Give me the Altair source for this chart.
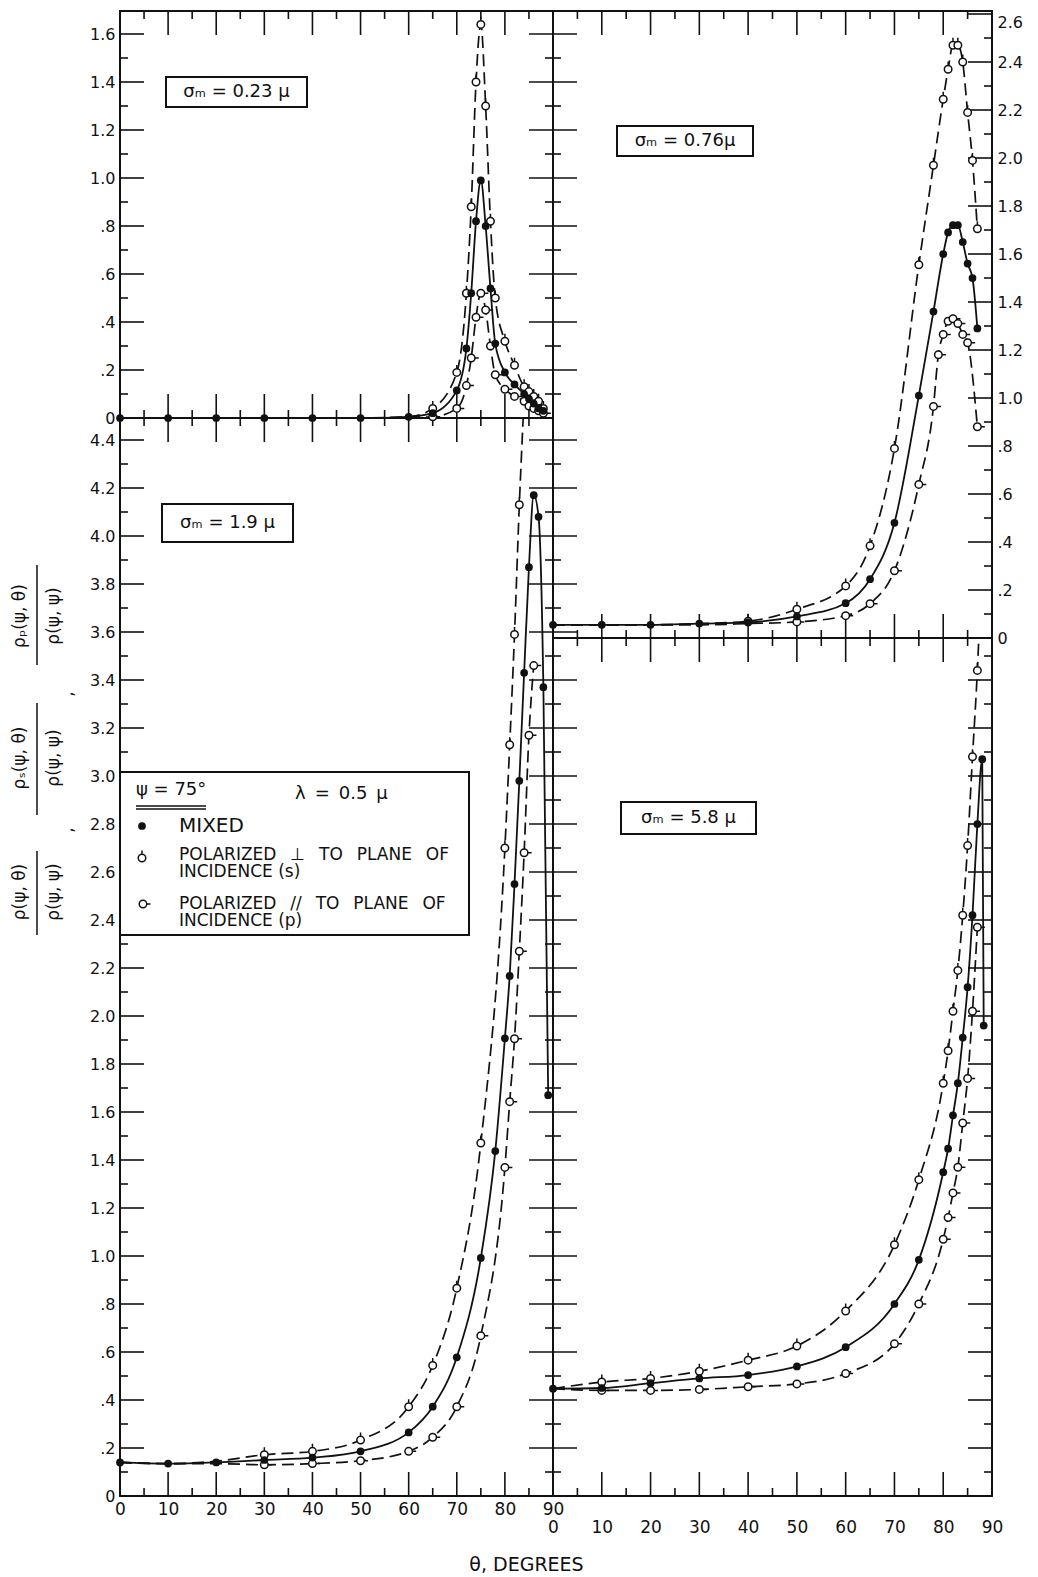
import altair as alt
import pandas as pd

FONT = "DejaVu Sans"
INK = "#111111"
GAP = " \u2002"   # wide word gap (plain spaces collapse in SVG)

# ---------------- values (theta in degrees) ----------------
# sigma_m = 0.23 mu  (top left)
TL_DEG = [0, 10, 20, 30, 40, 50, 60, 65, 70, 72, 73, 74, 75, 76, 77, 78, 80, 82, 84, 85, 86, 87, 88]
TL_MIXED = [0, 0, 0, 0, 0, 0, 0.005, 0.02, 0.115, 0.29, 0.52, 0.82, 0.99, 0.80, 0.54, 0.31, 0.19, 0.14, 0.10, 0.08, 0.06, 0.04, 0.03]
TL_S = [0, 0, 0, 0, 0, 0, 0.005, 0.04, 0.19, 0.52, 0.88, 1.40, 1.64, 1.30, 0.82, 0.50, 0.32, 0.22, 0.13, 0.11, 0.09, 0.07, 0.04]
TL_P = [0, 0, 0, 0, 0, 0, 0.003, 0.005, 0.04, 0.135, 0.25, 0.42, 0.52, 0.45, 0.30, 0.18, 0.12, 0.09, 0.07, 0.05, 0.04, 0.03, 0.02]

# sigma_m = 0.76 mu  (top right)
TR_DEG = [0, 10, 20, 30, 40, 50, 60, 65, 70, 75, 78, 80, 81, 82, 83, 84, 85, 86, 87]
TR_MIXED = [0.055, 0.055, 0.055, 0.06, 0.065, 0.09, 0.145, 0.245, 0.48, 1.01, 1.36, 1.60, 1.69, 1.72, 1.72, 1.65, 1.56, 1.50, 1.29]
TR_S = [0.055, 0.055, 0.055, 0.06, 0.07, 0.12, 0.217, 0.384, 0.79, 1.555, 1.97, 2.245, 2.37, 2.47, 2.47, 2.40, 2.19, 1.99, 1.705]
TR_P_DEG = [0, 10, 20, 30, 40, 50, 60, 65, 70, 75, 78, 79, 80, 81, 82, 83, 84, 85, 87]
TR_P = [0.055, 0.055, 0.055, 0.055, 0.06, 0.067, 0.093, 0.143, 0.28, 0.64, 0.965, 1.18, 1.265, 1.32, 1.33, 1.31, 1.265, 1.23, 0.88]

# sigma_m = 1.9 mu  (bottom left)
BL_M_DEG = [0, 10, 20, 30, 40, 50, 60, 65, 70, 75, 78, 80, 81, 82, 83, 84, 85, 86, 87, 88, 89]
BL_MIXED = [0.14, 0.135, 0.14, 0.15, 0.16, 0.186, 0.265, 0.372, 0.578, 0.992, 1.437, 1.907, 2.167, 2.55, 2.98, 3.43, 3.87, 4.17, 4.08, 3.37, 1.67]
BL_S_DEG = [0, 10, 20, 30, 40, 50, 60, 65, 70, 75, 80, 81, 82, 83]
BL_S = [0.14, 0.135, 0.145, 0.172, 0.186, 0.233, 0.372, 0.544, 0.866, 1.471, 2.70, 3.13, 3.59, 4.13]
BL_S_EXIT = (83.8, 4.49)          # where the dashed curve leaves the frame
BL_P_DEG = [0, 10, 20, 30, 40, 50, 60, 65, 70, 75, 80, 81, 82, 83, 84, 85, 86]
BL_P = [0.14, 0.135, 0.135, 0.13, 0.135, 0.147, 0.186, 0.245, 0.372, 0.668, 1.369, 1.643, 1.905, 2.27, 2.68, 3.17, 3.46]

# sigma_m = 5.8 mu  (bottom right)
BR_M_DEG = [0, 10, 20, 30, 40, 50, 60, 70, 75, 80, 81, 82, 83, 84, 85, 86, 87, 88, 88.3]
BR_MIXED = [0.447, 0.45, 0.47, 0.49, 0.504, 0.54, 0.62, 0.80, 0.984, 1.349, 1.447, 1.586, 1.72, 1.91, 2.12, 2.42, 2.80, 3.07, 1.96]
BR_SP_DEG = [0, 10, 20, 30, 40, 50, 60, 70, 75, 80, 81, 82, 83, 84, 85, 86, 87]
BR_S = [0.447, 0.475, 0.49, 0.52, 0.566, 0.625, 0.771, 1.047, 1.318, 1.72, 1.855, 2.02, 2.19, 2.42, 2.71, 3.08, 3.44]
BR_S_EXIT = (87.3, 3.575)
BR_P = [0.447, 0.44, 0.44, 0.444, 0.455, 0.467, 0.51, 0.634, 0.80, 1.07, 1.16, 1.263, 1.37, 1.554, 1.74, 2.02, 2.37]

# axis labels
X_LABELS = list(range(0, 91, 10))
Y_LABELS_TL = [round(0.2 * i, 1) for i in range(0, 9)]     # 0 .. 1.6
Y_LABELS_BL = [round(0.2 * i, 1) for i in range(0, 23)]    # 0 .. 4.4
Y_LABELS_TR = [round(0.2 * i, 1) for i in range(0, 14)]    # 0 .. 2.6

# ---------------- layout ----------------
PXU = 240.0                       # pixels per ordinate unit (same in every panel)
W_L, W_R = 433, 439
H_TL, H_BL, H_TR, H_BR = 407, 1078, 627, 858
H_ALL = H_TL + H_BL               # == H_TR + H_BR

S_SHAPE = "M0.5,0A0.5,0.5,0,1,1,-0.5,0A0.5,0.5,0,1,1,0.5,0ZM0,-0.5L0,-1"
P_SHAPE = "M0.5,0A0.5,0.5,0,1,1,-0.5,0A0.5,0.5,0,1,1,0.5,0ZM0.5,0L1,0"

LBL = ("datum.value == 0 ? '0' : (datum.value < 0.99 ? "
       "replace(format(datum.value, '.1f'), '0.', '.') : format(datum.value, '.1f'))")

BOX_FS = 18


def rows(deg, val, ser, mk_from, exit_pt=None):
    out = [dict(deg=d, val=v, ser=ser, mk=bool(d >= mk_from)) for d, v in zip(deg, val)]
    if exit_pt:
        out.append(dict(deg=exit_pt[0], val=exit_pt[1], ser=ser, mk=False))
    return out


def tick_layers(vals, majors, scale, side, W, y0, H, cross=False, lmaj=24, lmin=8):
    df = pd.DataFrame({"v": vals, "maj": majors})
    out = []
    for flt, L in (("datum.maj", lmaj), ("!datum.maj", lmin)):
        base = alt.Chart(df).transform_filter(flt).mark_rule(color=INK, strokeWidth=1.6)
        ext = L if cross else 0
        if side == "left":
            enc = dict(y=alt.Y("v:Q", scale=scale, axis=None), x=alt.value(0), x2=alt.value(L))
        elif side == "right":
            enc = dict(y=alt.Y("v:Q", scale=scale, axis=None), x=alt.value(W - L), x2=alt.value(W + ext))
        elif side == "top":
            enc = dict(x=alt.X("v:Q", scale=scale, axis=None), y=alt.value(y0), y2=alt.value(y0 + L))
        else:
            enc = dict(x=alt.X("v:Q", scale=scale, axis=None), y=alt.value(y0 + H - L),
                       y2=alt.value(y0 + H + ext))
        out.append(base.encode(**enc))
    return out


def panel(W, y0, H, data, sides, xaxis=None, yaxis=None, box=None, extra=None, baseline=False):
    ymax = H / PXU
    xs = alt.Scale(domain=[0, 90], nice=False, zero=False)
    ys = alt.Scale(domain=[0, ymax], range=[y0 + H, y0], nice=False, zero=False)
    nt = int(round(ymax * 10 - 0.499))
    yv = [round(0.1 * i, 1) for i in range(1, nt + 1)]
    ymaj = [int(round(v * 10)) % 2 == 0 for v in yv]
    xv = list(range(5, 90, 5))
    xmaj = [v % 10 == 0 for v in xv]
    layers = []
    if baseline:
        layers.append(alt.Chart(pd.DataFrame({"a": [0]})).mark_rule(color=INK, strokeWidth=2).encode(
            x=alt.value(0), x2=alt.value(W), y=alt.value(y0 + H)))
    for side, cross in sides:
        if side in ("left", "right"):
            layers += tick_layers(yv, ymaj, ys, side, W, y0, H, cross)
        else:
            layers += tick_layers(xv, xmaj, xs, side, W, y0, H, cross)

    df = pd.DataFrame(data)
    X = lambda ax=None: alt.X("deg:Q", scale=xs, axis=ax)
    Y = lambda ax=None: alt.Y("val:Q", scale=ys, axis=ax)
    layers.append(
        alt.Chart(df).transform_filter("datum.ser != 'mixed'")
        .mark_line(color=INK, strokeWidth=1.7, strokeDash=[12, 6], interpolate="monotone", clip=True)
        .encode(x=X(), y=Y(), detail="ser:N"))
    layers.append(
        alt.Chart(df).transform_filter("datum.ser == 'mixed'")
        .mark_line(color=INK, strokeWidth=1.8, interpolate="monotone", clip=True)
        .encode(x=X(xaxis), y=Y(yaxis)))
    for ser, shp in (("s", S_SHAPE), ("p", P_SHAPE)):
        layers.append(
            alt.Chart(df).transform_filter(f"datum.ser == '{ser}' && datum.mk")
            .mark_point(shape=shp, size=225, filled=True, fill="white", stroke=INK,
                        strokeWidth=1.5, opacity=1)
            .encode(x=X(), y=Y()))
    layers.append(
        alt.Chart(df).transform_filter("datum.ser == 'mixed' && datum.mk")
        .mark_point(shape="circle", size=60, filled=True, color=INK, opacity=1)
        .encode(x=X(), y=Y()))

    if box is not None:
        (px1, py1, px2, py2, label) = box
        k = 90.0 / W
        bdf = pd.DataFrame([dict(x1=px1 * k, x2=px2 * k, y1=ymax - py1 / PXU, y2=ymax - py2 / PXU,
                                 xc=(px1 + px2) / 2 * k, yc=ymax - (py1 + py2) / 2 / PXU, t=label)])
        layers.append(alt.Chart(bdf).mark_rect(fill="white", stroke=INK, strokeWidth=2).encode(
            x=alt.X("x1:Q", scale=xs, axis=None), x2="x2:Q",
            y=alt.Y("y1:Q", scale=ys, axis=None), y2="y2:Q"))
        layers.append(alt.Chart(bdf).mark_text(font=FONT, fontSize=BOX_FS, color=INK, align="center",
                                               baseline="middle").encode(
            x=alt.X("xc:Q", scale=xs, axis=None), y=alt.Y("yc:Q", scale=ys, axis=None), text="t:N"))
    if extra is not None:
        layers += extra(xs, ys, W, ymax)
    return alt.layer(*layers).resolve_axis(x="independent", y="independent")


def yaxis(orient, values, top_value=None):
    kw = {}
    if top_value is not None:
        kw["labelBaseline"] = {"condition": {"test": f"datum.value >= {top_value}", "value": "top"},
                               "value": "middle"}
    return alt.Axis(orient=orient, values=values, labelExpr=LBL, ticks=False, domain=False, grid=False,
                    labelPadding=5, labelFont=FONT, labelFontSize=16, labelColor=INK, labelOverlap=False,
                    labelFlush=False, title=None, **kw)


def xaxis(pad, title=None, **kw):
    return alt.Axis(orient="bottom", values=X_LABELS, format="d", ticks=False, domain=False, grid=False,
                    labelPadding=pad, labelFont=FONT, labelFontSize=17, labelColor=INK, labelOverlap=False,
                    labelFlush=False, title=title, **kw)


def bl_extra(xs, ys, W, ymax):
    k = 90.0 / W
    cx = lambda px: px * k
    cy = lambda py: ymax - py / PXU
    out = []
    # legend box
    lb = pd.DataFrame([dict(x1=cx(0), x2=cx(349), y1=cy(354), y2=cy(517))])
    out.append(alt.Chart(lb).mark_rect(fill="white", stroke=INK, strokeWidth=2).encode(
        x=alt.X("x1:Q", scale=xs, axis=None), x2="x2:Q", y=alt.Y("y1:Q", scale=ys, axis=None), y2="y2:Q"))
    items = [("ψ = 75°", 16, 372, 18), ("λ\u2002=\u20020.5\u2002μ", 175, 376, 18), ("MIXED", 59, 408, 20),
             (GAP.join(["POLARIZED", "⊥", "TO", "PLANE", "OF"]), 59, 437, 17), ("INCIDENCE (s)", 59, 454, 17),
             (GAP.join(["POLARIZED", "//", "TO", "PLANE", "OF"]), 59, 486, 17), ("INCIDENCE (p)", 59, 503, 17)]
    tdf = pd.DataFrame([dict(t=t, x=cx(px), y=cy(py), fs=fs) for t, px, py, fs in items])
    out.append(alt.Chart(tdf).mark_text(font=FONT, color=INK, align="left", baseline="middle").encode(
        x=alt.X("x:Q", scale=xs, axis=None), y=alt.Y("y:Q", scale=ys, axis=None), text="t:N",
        size=alt.Size("fs:Q", scale=None, legend=None)))
    udf = pd.DataFrame([dict(x1=cx(16), x2=cx(86), y=cy(388)), dict(x1=cx(16), x2=cx(86), y=cy(391))])
    out.append(alt.Chart(udf).mark_rule(color=INK, strokeWidth=1.4).encode(
        x=alt.X("x1:Q", scale=xs, axis=None), x2="x2:Q", y=alt.Y("y:Q", scale=ys, axis=None)))
    mdf = pd.DataFrame([dict(x=cx(22), y=cy(408))])
    out.append(alt.Chart(mdf).mark_point(shape="circle", size=60, filled=True, color=INK, opacity=1).encode(
        x=alt.X("x:Q", scale=xs, axis=None), y=alt.Y("y:Q", scale=ys, axis=None)))
    for shp, px, py in ((S_SHAPE, 22, 440), (P_SHAPE, 23, 486)):
        sdf = pd.DataFrame([dict(x=cx(px), y=cy(py))])
        out.append(alt.Chart(sdf).mark_point(shape=shp, size=225, filled=True, fill="white", stroke=INK,
                                             strokeWidth=1.5, opacity=1).encode(
            x=alt.X("x:Q", scale=xs, axis=None), y=alt.Y("y:Q", scale=ys, axis=None)))
    # rotated ordinate title
    rot = [("ρ(ψ, θ)", -100, 474), ("ρ(ψ, ψ)", -66, 474), (",", -52, 412),
           ("ρₛ(ψ, θ)", -100, 340), ("ρ(ψ, ψ)", -66, 340), (",", -52, 276),
           ("ρₚ(ψ, θ)", -100, 198), ("ρ(ψ, ψ)", -66, 198)]
    rdf = pd.DataFrame([dict(t=t, x=cx(px), y=cy(py)) for t, px, py in rot])
    out.append(alt.Chart(rdf).mark_text(font=FONT, fontSize=17, color=INK, angle=270, align="center",
                                        baseline="middle").encode(
        x=alt.X("x:Q", scale=xs, axis=None), y=alt.Y("y:Q", scale=ys, axis=None), text="t:N"))
    bars = pd.DataFrame([dict(x=cx(-83), y1=cy(433), y2=cy(517)), dict(x=cx(-83), y1=cy(285), y2=cy(397)),
                         dict(x=cx(-83), y1=cy(147), y2=cy(247))])
    out.append(alt.Chart(bars).mark_rule(color=INK, strokeWidth=1.5).encode(
        x=alt.X("x:Q", scale=xs, axis=None), y=alt.Y("y1:Q", scale=ys, axis=None), y2="y2:Q"))
    return out


tl = panel(W_L, 0, H_TL,
           rows(TL_DEG, TL_MIXED, "mixed", 0) + rows(TL_DEG, TL_S, "s", 65) + rows(TL_DEG, TL_P, "p", 65),
           [("left", False), ("top", False), ("right", True), ("bottom", True)],
           yaxis=yaxis("left", Y_LABELS_TL), box=(46, 66, 187, 96, "σₘ = 0.23 μ"), baseline=True)

bl = panel(W_L, H_TL, H_BL,
           rows(BL_M_DEG, BL_MIXED, "mixed", 0) + rows(BL_S_DEG, BL_S, "s", 30, BL_S_EXIT)
           + rows(BL_P_DEG, BL_P, "p", 30),
           [("left", False), ("right", True), ("bottom", False)],
           xaxis=xaxis(5, "θ, DEGREES", titleX=406, titleY=68, titleFont=FONT, titleFontSize=19,
                       titleFontWeight="normal", titleColor=INK, titleAlign="center", titleBaseline="middle"),
           yaxis=yaxis("left", Y_LABELS_BL), box=(42, 86, 173, 124, "σₘ = 1.9 μ"), extra=bl_extra)

tr = panel(W_R, 0, H_TR,
           rows(TR_DEG, TR_MIXED, "mixed", 0) + rows(TR_DEG, TR_S, "s", 40) + rows(TR_P_DEG, TR_P, "p", 50),
           [("top", False), ("right", False), ("bottom", True)],
           yaxis=yaxis("right", Y_LABELS_TR, top_value=2.55), box=(64, 115, 200, 145, "σₘ = 0.76μ"),
           baseline=True)

br = panel(W_R, H_TR, H_BR,
           rows(BR_M_DEG, BR_MIXED, "mixed", 0) + rows(BR_SP_DEG, BR_S, "s", 10, BR_S_EXIT)
           + rows(BR_SP_DEG, BR_P, "p", 10),
           [("right", False), ("bottom", False)],
           xaxis=xaxis(23), box=(68, 164, 203, 196, "σₘ = 5.8 μ"))

left = (alt.layer(tl, bl).resolve_scale(y="independent")
        .resolve_axis(x="independent", y="independent").properties(width=W_L, height=H_ALL))
right = (alt.layer(tr, br).resolve_scale(y="independent")
         .resolve_axis(x="independent", y="independent").properties(width=W_R, height=H_ALL))

chart = (alt.hconcat(left, right, spacing=0, bounds="flush")
         .properties(padding={"left": 2, "top": 1, "right": 4, "bottom": 4}, background="white")
         .configure_view(stroke=INK, strokeWidth=2))

chart.save("out.html", embed_options={"renderer": "svg", "actions": False})
